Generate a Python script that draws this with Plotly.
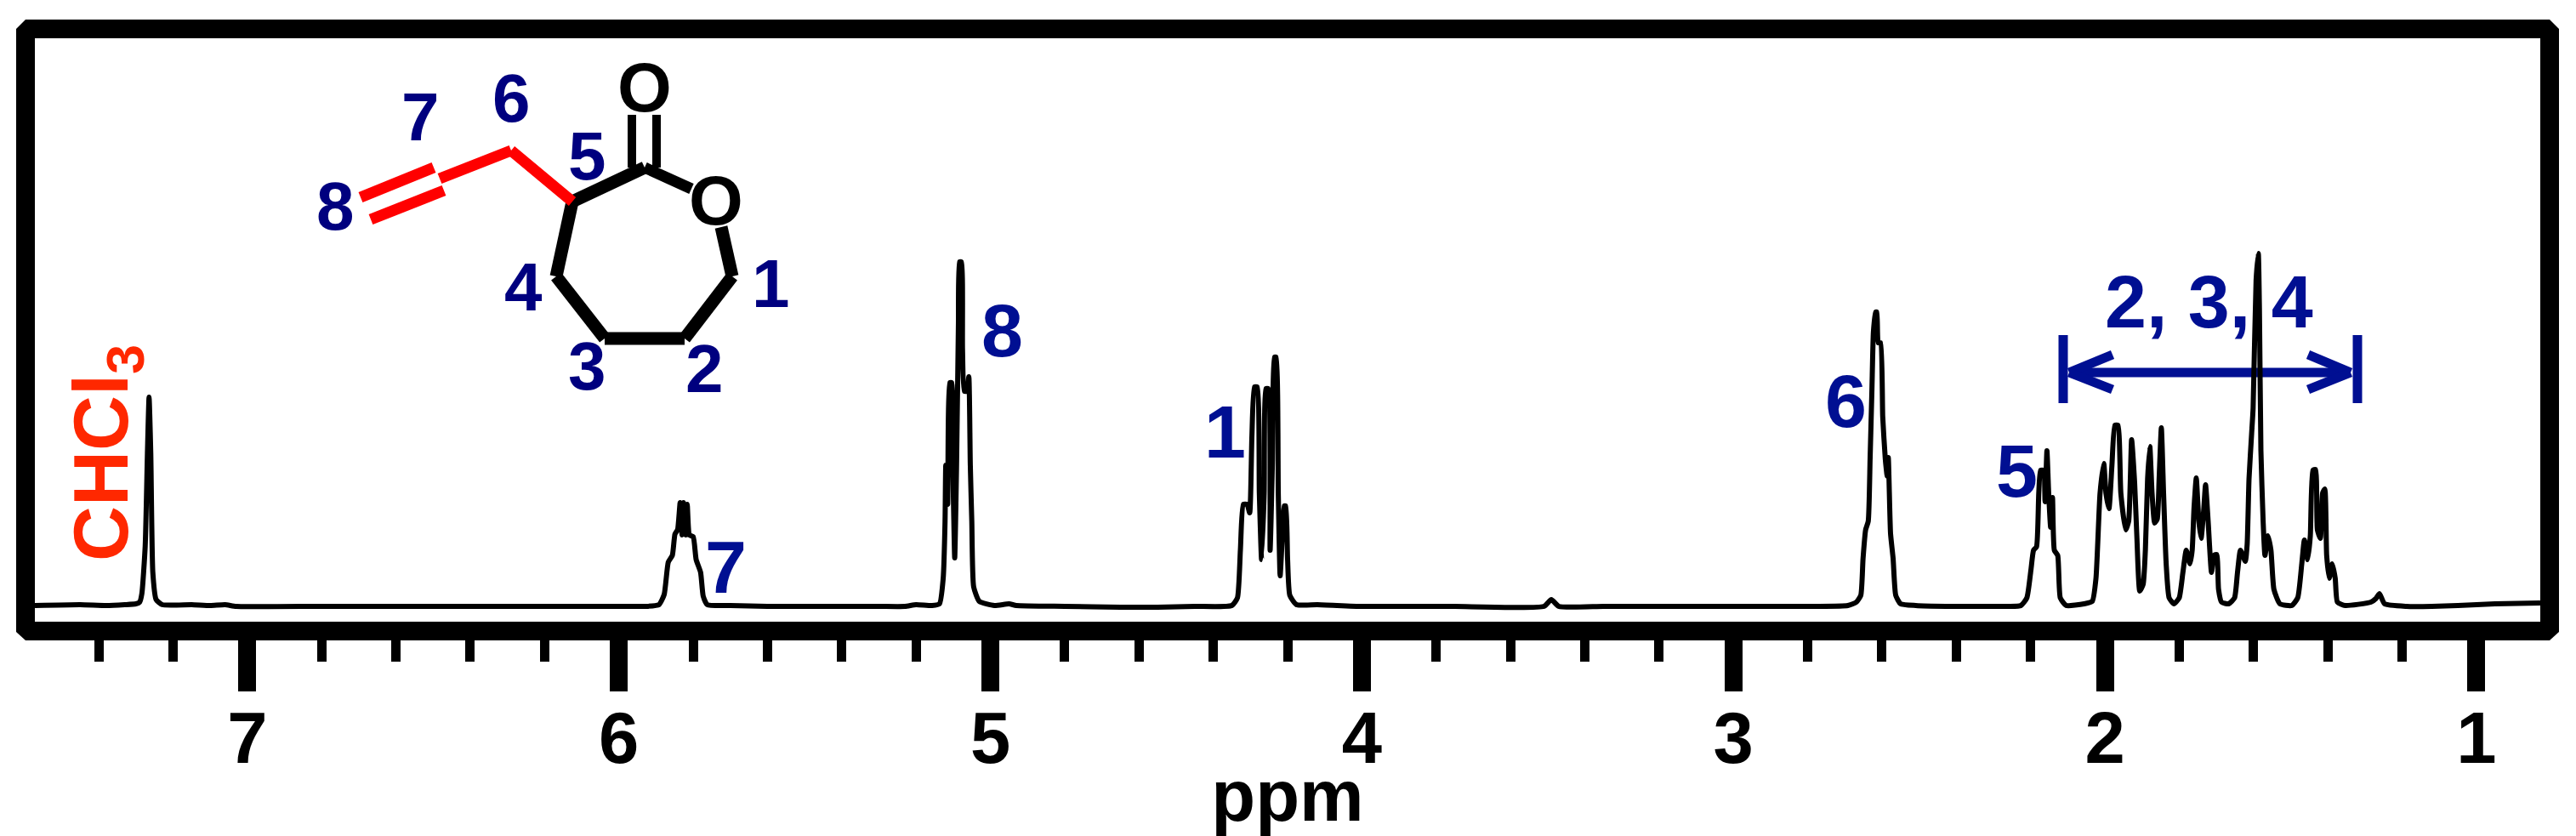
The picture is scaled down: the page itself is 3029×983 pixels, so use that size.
import plotly.graph_objects as go

W, H = 3029, 983
L, R, T, B = 41, 2987, 45, 731  # inner edges of the frame, px

# spectrum, one small list per multiplet (ppm, height)
edge_ppm = [7.572, 7.45, 7.38, 7.33]
edge_int = [1, 2, 1, 2]
chcl3_ppm = [7.30, 7.29, 7.284, 7.275, 7.269, 7.2646, 7.26, 7.2545, 7.2456, 7.229, 7.15, 7.10, 7.06, 7.03]
chcl3_int = [3, 5, 15, 71, 180, 246, 180, 40, 8, 2, 2, 1, 2, 0]
gap1_ppm = [6.8, 6.5, 6.2, 6.0, 5.93]
gap1_int = [0, 0, 0, 0, 0]
h7_ppm = [5.892, 5.878, 5.867, 5.856, 5.849, 5.842, 5.835, 5.83, 5.826, 5.82, 5.816, 5.81, 5.80, 5.792, 5.78, 5.773, 5.762, 5.70]
h7_int = [2, 14, 52, 60, 85, 90, 122, 84, 122, 84, 120, 84, 82, 55, 40, 12, 2, 1]
gap2_ppm = [5.6, 5.45, 5.3]
gap2_int = [0, 0, 0]
h8_ppm = [5.23, 5.20, 5.157, 5.137, 5.127, 5.122, 5.12, 5.115, 5.109, 5.104, 5.101, 5.096, 5.091, 5.086, 5.083,
          5.078, 5.075, 5.07, 5.063, 5.058, 5.054, 5.05, 5.045, 5.03, 4.989, 4.95, 4.93]
h8_int = [0, 2, 1, 3, 33, 100, 166, 120, 263, 263, 166, 57, 166, 333, 405, 405, 303, 253, 253, 270, 166, 100, 23, 6, 1, 3, 1]
gap3_ppm = [4.8, 4.65, 4.55]
gap3_int = [0, -1, -1]
h1_ppm = [4.45, 4.35, 4.335, 4.327, 4.319, 4.309, 4.302, 4.296, 4.289, 4.282, 4.276, 4.27, 4.263, 4.258, 4.252, 4.247,
          4.241, 4.235, 4.231, 4.225, 4.22, 4.214, 4.209, 4.205, 4.2, 4.194, 4.176, 4.12]
h1_int = [0, 1, 10, 66, 120, 120, 110, 200, 258, 258, 133, 55, 133, 256, 256, 66, 166, 293, 293, 133, 36, 83, 118, 118, 56, 13, 2, 2]
bump_ppm = [4.0, 3.85, 3.75, 3.51, 3.49, 3.47, 3.35, 3.2, 3.05, 2.9, 2.78]
bump_int = [0, 0, 0, 0, 8, 0, 0, 0, 0, 0, 0]
h6_ppm = [2.692, 2.669, 2.657, 2.651, 2.644, 2.637, 2.632, 2.627, 2.623, 2.617, 2.614, 2.61, 2.604, 2.598, 2.591,
          2.586, 2.583, 2.577, 2.57, 2.563, 2.55, 2.509]
h6_int = [1, 5, 13, 56, 90, 100, 173, 256, 323, 346, 346, 310, 310, 223, 173, 153, 175, 86, 56, 13, 3, 1]
gap4_ppm = [2.42, 2.33, 2.26]
gap4_int = [0, 0, 0]
h5_ppm = [2.226, 2.21, 2.199, 2.192, 2.184, 2.178, 2.173, 2.165, 2.161, 2.156, 2.151, 2.146, 2.141, 2.136, 2.127, 2.12, 2.104]
h5_int = [1, 10, 43, 66, 70, 133, 160, 160, 123, 183, 130, 93, 128, 66, 60, 10, 1]
envelope_ppm = [2.056, 2.034, 2.024, 2.013, 2.003, 1.997, 1.989, 1.981, 1.973, 1.965, 1.957, 1.944, 1.936, 1.928, 1.92,
                1.914, 1.906, 1.897, 1.891, 1.885, 1.879, 1.873, 1.866, 1.859, 1.854, 1.848, 1.842, 1.835, 1.827, 1.814,
                1.80, 1.79, 1.781, 1.771, 1.765, 1.76, 1.754, 1.747, 1.741, 1.734, 1.729, 1.722, 1.713, 1.706, 1.699,
                1.694, 1.686, 1.667, 1.651, 1.643, 1.635, 1.622, 1.617, 1.612, 1.605, 1.601, 1.593, 1.587, 1.584, 1.58,
                1.574, 1.569, 1.561, 1.553, 1.545, 1.529, 1.497, 1.481, 1.47, 1.463, 1.454, 1.447, 1.44, 1.433, 1.428,
                1.42, 1.414, 1.408, 1.403, 1.396, 1.388, 1.38, 1.374, 1.353]
envelope_int = [3, 6, 33, 133, 168, 133, 115, 166, 213, 213, 133, 90, 100, 196, 146,
                83, 18, 26, 66, 150, 188, 133, 98, 103, 150, 210, 133, 50, 10, 3,
                10, 40, 66, 50, 66, 116, 151, 100, 80, 113, 143, 100, 40, 60, 61,
                20, 5, 3, 10, 40, 66, 53, 73, 150, 203, 233, 383, 415, 350, 183,
                100, 60, 83, 66, 20, 3, 1, 10, 50, 78, 55, 83, 160, 161, 90,
                80, 133, 138, 60, 33, 50, 33, 5, 1]
tail_ppm = [1.284, 1.271, 1.261, 1.247, 1.188, 1.12, 1.05, 0.95, 0.828]
tail_int = [5, 9, 15, 3, 0, 0, 1, 3, 4]

ppm = (edge_ppm + chcl3_ppm + gap1_ppm + h7_ppm + gap2_ppm + h8_ppm + gap3_ppm + h1_ppm + bump_ppm
       + h6_ppm + gap4_ppm + h5_ppm + envelope_ppm + tail_ppm)
intensity = (edge_int + chcl3_int + gap1_int + h7_int + gap2_int + h8_int + gap3_int + h1_int + bump_int
             + h6_int + gap4_int + h5_int + envelope_int + tail_int)

major_ticks = [7, 6, 5, 4, 3, 2, 1]
major_labels = ["7", "6", "5", "4", "3", "2", "1"]
minor_ticks = [7.4, 7.2, 6.8, 6.6, 6.4, 6.2, 5.8, 5.6, 5.4, 5.2, 4.8, 4.6, 4.4, 4.2,
               3.8, 3.6, 3.4, 3.2, 2.8, 2.6, 2.4, 2.2, 1.8, 1.6, 1.4, 1.2]

BLUE = "#000f92"
NAVY = "#00007f"
RED = "#ff0000"


def px(x, y):
    return (x - L) / (R - L), (B - y) / (B - T)


def seg(x0, y0, x1, y1, color, width, layer="above"):
    a, b = px(x0, y0)
    c, d = px(x1, y1)
    return dict(type="line", xref="paper", yref="paper", x0=a, y0=b, x1=c, y1=d,
                line=dict(color=color, width=width), layer=layer)


def label(text, x, y, size=88, color=BLUE, angle=0):
    a, b = px(x, y)
    return dict(text=text, x=a, y=b, xref="paper", yref="paper", showarrow=False, textangle=angle,
                font=dict(family="Liberation Sans", size=size, color=color, weight="bold"),
                xanchor="center", yanchor="middle")


fig = go.Figure(go.Scatter(x=ppm, y=intensity, mode="lines", hoverinfo="skip",
                           line=dict(color="black", width=6, shape="spline", smoothing=0.5)))

shapes = []
# ring and carbonyl
ring = [(758, 197), (673, 237), (654, 325), (711, 398), (805, 398), (861, 325), (848, 267)]
for p, q in zip(ring, ring[1:]):
    shapes.append(seg(p[0], p[1], q[0], q[1], "black", 15))
shapes.append(seg(758, 197, 813, 222, "black", 13))
shapes.append(seg(743, 135, 743, 197, "black", 10))
shapes.append(seg(772, 135, 772, 197, "black", 10))
# allyl arm
allyl = [(673, 237), (601, 177), (517, 210)]
for p, q in zip(allyl, allyl[1:]):
    shapes.append(seg(p[0], p[1], q[0], q[1], RED, 13))
shapes.append(seg(510, 197, 424, 232, RED, 13))
shapes.append(seg(522, 224, 436, 258, RED, 13))
# 2, 3, 4 bracket, under the spectrum
for s in [(2433, 438, 2764, 438), (2426, 394, 2426, 474), (2772, 394, 2772, 474),
          (2433, 438, 2484, 417), (2433, 438, 2484, 458), (2764, 438, 2714, 417), (2764, 438, 2714, 458)]:
    shapes.append(seg(s[0], s[1], s[2], s[3], BLUE, 11, layer="below"))
# clipped frame corners
for c in [[(19, 23), (30, 23), (19, 34)], [(3009, 23), (2998, 23), (3009, 34)],
          [(19, 753), (30, 753), (19, 743)], [(3009, 753), (2998, 753), (3009, 743)]]:
    pts = [px(*p) for p in c]
    shapes.append(dict(type="path", xref="paper", yref="paper", layer="above", fillcolor="white",
                       line=dict(width=0),
                       path="M{:.5f} {:.5f} L{:.5f} {:.5f} L{:.5f} {:.5f} Z".format(*[v for p in pts for v in p])))

annotations = [
    label("O", 758, 102, size=82, color="black"),
    label("O", 842, 235, size=82, color="black"),
    label("7", 494, 137, size=80, color=NAVY),
    label("6", 601, 115, size=80, color=NAVY),
    label("5", 690, 183, size=80, color=NAVY),
    label("8", 394, 243, size=80, color=NAVY),
    label("4", 615, 337, size=80, color=NAVY),
    label("1", 906, 333, size=80, color=NAVY),
    label("3", 690, 430, size=80, color=NAVY),
    label("2", 828, 433, size=80, color=NAVY),
    label("7", 853, 666),
    label("8", 1178, 388),
    label("1", 1440, 507),
    label("6", 2170, 471),
    label("5", 2371, 553),
    label("2, 3, 4", 2597, 354),
    label("CHCl<sub>3</sub>", 125, 533, size=90, color="#ff2800", angle=-90),
]

fig.update_layout(
    width=W, height=H, paper_bgcolor="white", plot_bgcolor="white", showlegend=False,
    margin=dict(l=L, r=W - R, t=T, b=H - B, pad=0),
    shapes=shapes, annotations=annotations,
    xaxis=dict(range=[7.572, 0.828], showgrid=False, zeroline=False, showline=True, linecolor="black", linewidth=22,
               mirror=True, ticks="outside", ticklen=60, tickwidth=21, tickcolor="black", automargin=False,
               tickvals=major_ticks, ticktext=major_labels, ticklabelstandoff=-18,
               tickfont=dict(family="Liberation Sans", size=85, color="black", weight="bold"),
               minor=dict(tickvals=minor_ticks, ticks="outside", ticklen=25, tickwidth=11, tickcolor="black"),
               title=dict(text="ppm", standoff=0, font=dict(family="Liberation Sans", size=85, color="black", weight="bold"))),
    yaxis=dict(range=[-18, 668], showgrid=False, zeroline=False, showline=True, linecolor="black", linewidth=22,
               mirror=True, ticks="", showticklabels=False, automargin=False),
)

fig.write_html("out.html", config=dict(displayModeBar=False), post_script="document.body.style.margin='0';")
